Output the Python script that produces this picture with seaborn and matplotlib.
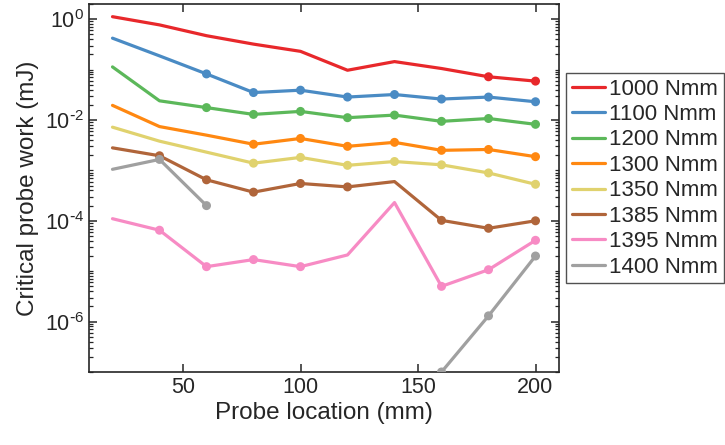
import numpy as np
import pandas as pd
import matplotlib
matplotlib.use("Agg")
import matplotlib.pyplot as plt
import matplotlib.ticker as mticker
from matplotlib.lines import Line2D
import seaborn as sns

probe_location = [20, 40, 60, 80, 100, 120, 140, 160, 180, 200]
loads = ["1000 Nmm", "1100 Nmm", "1200 Nmm", "1300 Nmm",
         "1350 Nmm", "1385 Nmm", "1395 Nmm", "1400 Nmm"]

work_1000 = [1.12, 0.77, 0.47, 0.32, 0.23, 0.097, 0.144, 0.105, 0.072, 0.059]
work_1100 = [0.42, 0.187, 0.082, 0.035, 0.039, 0.0285, 0.032, 0.026, 0.0285, 0.023]
work_1200 = [0.113, 0.024, 0.0176, 0.0129, 0.0148, 0.0111, 0.0125, 0.0094, 0.0107, 0.0082]
work_1300 = [0.0195, 0.0074, 0.005, 0.0033, 0.0043, 0.003, 0.0036, 0.0025, 0.0026, 0.00187]
work_1350 = [0.0072, 0.0038, 0.0023, 0.00139, 0.00181, 0.00126, 0.0015, 0.00129, 0.00089, 0.00053]
work_1385 = [0.0028, 0.00195, 0.00065, 0.00037, 0.00055, 0.00047, 0.0006, 0.000102, 0.000071, 0.0001]
work_1395 = [0.00011, 0.000065, 1.23e-5, 1.7e-5, 1.23e-5, 2.1e-5, 0.00023, 5.0e-6, 1.07e-5, 4.1e-5]
work_1400 = [0.00105, 0.00165, 0.0002, np.nan, np.nan, np.nan, np.nan, 1.0e-7, 1.3e-6, 2.0e-5]

# which points carry a dot marker in the original
marked_1000 = [0, 0, 0, 0, 0, 0, 0, 0, 1, 1]
marked_1100 = [0, 0, 1, 1, 1, 1, 1, 1, 1, 1]
marked_1200 = [0, 0, 1, 1, 1, 1, 1, 1, 1, 1]
marked_1300 = [0, 0, 0, 1, 1, 1, 1, 1, 1, 1]
marked_1350 = [0, 0, 0, 1, 1, 1, 1, 1, 1, 1]
marked_1385 = [0, 1, 1, 1, 1, 1, 0, 1, 1, 1]
marked_1395 = [0, 1, 1, 1, 1, 0, 0, 1, 1, 1]
marked_1400 = [0, 1, 1, 0, 0, 0, 0, 1, 1, 1]

y_tick_values = [1, 1e-2, 1e-4, 1e-6]
y_tick_labels = [r"$10^{0}$", r"$10^{\text{-}2}$", r"$10^{\text{-}4}$", r"$10^{\text{-}6}$"]
x_tick_values = [50, 100, 150, 200]

colors = ["#e8282b", "#4a8bc4", "#5cb85a", "#ff8811",
          "#e0d26e", "#b0653a", "#f78bc4", "#a0a0a0"]

works = [work_1000, work_1100, work_1200, work_1300,
         work_1350, work_1385, work_1395, work_1400]
marks = [marked_1000, marked_1100, marked_1200, marked_1300,
         marked_1350, marked_1385, marked_1395, marked_1400]

rows = []
for load, w, m in zip(loads, works, marks):
    seg = 0
    prev_nan = False
    for x, v, k in zip(probe_location, w, m):
        if np.isnan(v):
            prev_nan = True
            continue
        if prev_nan:
            seg += 1
            prev_nan = False
        rows.append({"x": x, "work": v, "load": load,
                     "seg": f"{load}-{seg}", "marked": bool(k)})
df = pd.DataFrame(rows)

sns.set_theme(style="ticks")
plt.rcParams["font.family"] = ["Liberation Sans", "DejaVu Sans"]
plt.rcParams["mathtext.default"] = "regular"

fig = plt.figure(figsize=(7.25, 4.45), dpi=100)
ax = fig.add_axes([89 / 725, 1 - 372 / 445, (559 - 89) / 725, (372 - 4) / 445])
ax.set_yscale("log")

palette = dict(zip(loads, colors))
sns.lineplot(data=df, x="x", y="work", hue="load", units="seg",
             estimator=None, palette=palette, linewidth=2.3, ax=ax,
             legend=False, sort=True)
sns.scatterplot(data=df[df["marked"]], x="x", y="work", hue="load",
                palette=palette, s=42, edgecolor="none", ax=ax,
                legend=False, zorder=3)

ax.set_xlim(10, 210)
ax.set_ylim(1e-7, 2)
ax.set_xticks(x_tick_values)
ax.set_yticks(y_tick_values)
ax.set_yticklabels(y_tick_labels)
ax.yaxis.set_minor_locator(mticker.LogLocator(base=10, subs=np.arange(1, 10), numticks=20))
ax.yaxis.set_minor_formatter(mticker.NullFormatter())

for s in ax.spines.values():
    s.set_linewidth(1.2)
    s.set_color("#262626")
ax.tick_params(which="both", direction="in", top=True, right=True,
               bottom=True, left=True, colors="#262626", labelsize=15.5)
ax.tick_params(which="major", length=6, width=1.1)
ax.tick_params(which="minor", length=3, width=0.9)
ax.tick_params(axis="x", which="minor", bottom=False, top=False)

ax.set_xlabel("Probe location (mm)", fontsize=17.5, color="#262626", labelpad=3)
ax.set_ylabel("Critical probe work (mJ)", fontsize=17.5, color="#262626", labelpad=4)

handles = [Line2D([0], [0], color=c, lw=2.3) for c in colors]
leg = ax.legend(handles, loads, loc="upper left",
                bbox_to_anchor=(566 / 725, 1 - 73 / 445),
                bbox_transform=fig.transFigure, frameon=True, fancybox=False,
                fontsize=16, handlelength=1.5, handletextpad=0.2,
                labelspacing=0.2, borderpad=0.25, borderaxespad=0)
leg.get_frame().set_edgecolor("#262626")
leg.get_frame().set_linewidth(1.0)

fig.savefig("out.png", dpi=100)
